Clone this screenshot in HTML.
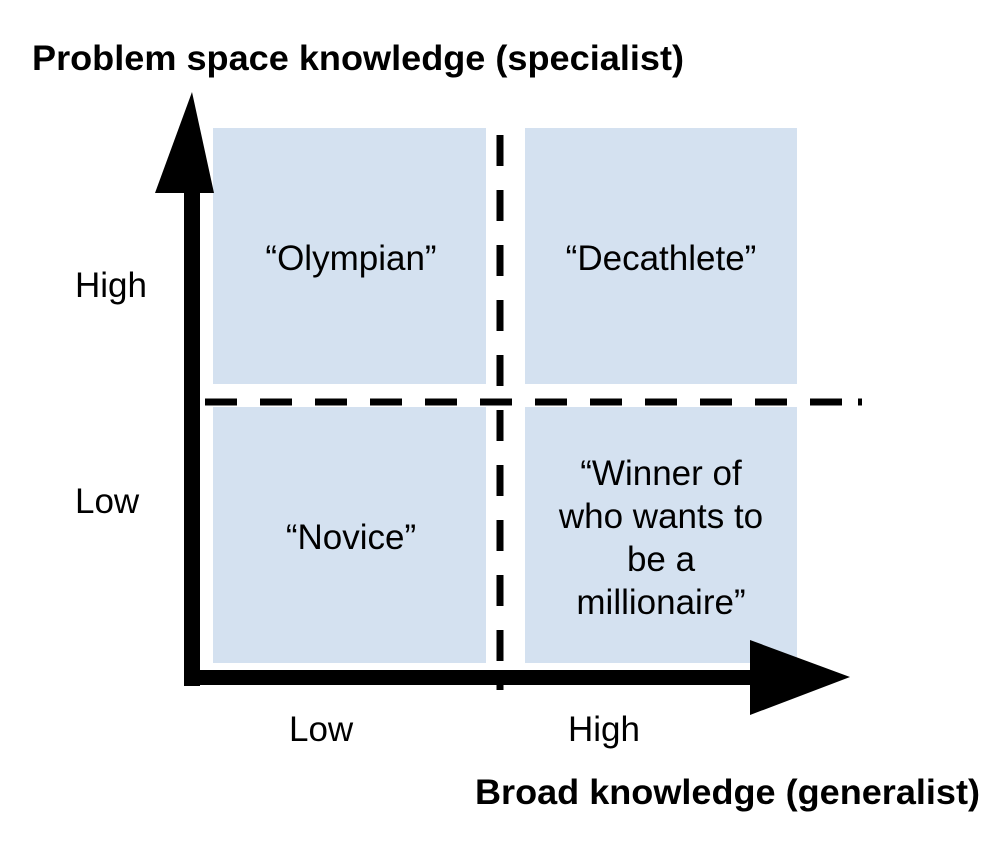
<!DOCTYPE html>
<html><head><style>
body{margin:0;background:#fff;}
svg text{font-family:"Liberation Sans",Arial,sans-serif;fill:#000;}
</style></head><body>
<svg width="998" height="838" xmlns="http://www.w3.org/2000/svg">
<rect x="213" y="128" width="273" height="256" fill="#d4e1f0"/>
<rect x="525" y="128" width="272" height="256" fill="#d4e1f0"/>
<rect x="213" y="407" width="273" height="256" fill="#d4e1f0"/>
<rect x="525" y="407" width="272" height="256" fill="#d4e1f0"/>
<line x1="500" y1="135" x2="500" y2="690" stroke="#000" stroke-width="7" stroke-dasharray="31 24"/>
<line x1="205" y1="402" x2="862" y2="402" stroke="#000" stroke-width="7" stroke-dasharray="32 23"/>
<rect x="858" y="398.5" width="4" height="7" fill="#000"/>
<rect x="184" y="190" width="16" height="496" fill="#000"/>
<polygon points="192,92 155,193 214,193" fill="#000"/>
<rect x="184" y="670" width="570" height="15" fill="#000"/>
<polygon points="750,640 850,677 750,715" fill="#000"/>
<text x="32" y="70" font-size="35" font-weight="bold" textLength="652" lengthAdjust="spacingAndGlyphs">Problem space knowledge (specialist)</text>
<text x="475" y="804" font-size="35" font-weight="bold" textLength="505" lengthAdjust="spacingAndGlyphs">Broad knowledge (generalist)</text>
<text x="75" y="297" font-size="35">High</text>
<text x="75" y="513" font-size="35">Low</text>
<text x="289" y="741" font-size="35">Low</text>
<text x="568" y="741" font-size="35">High</text>
<g font-size="35" text-anchor="middle">
<text x="351" y="270">“Olympian”</text>
<text x="661" y="270">“Decathlete”</text>
<text x="351" y="549">“Novice”</text>
<text x="661" y="485">“Winner of</text>
<text x="661" y="528">who wants to</text>
<text x="661" y="571">be a</text>
<text x="661" y="614">millionaire”</text>
</g>
</svg>
</body></html>
